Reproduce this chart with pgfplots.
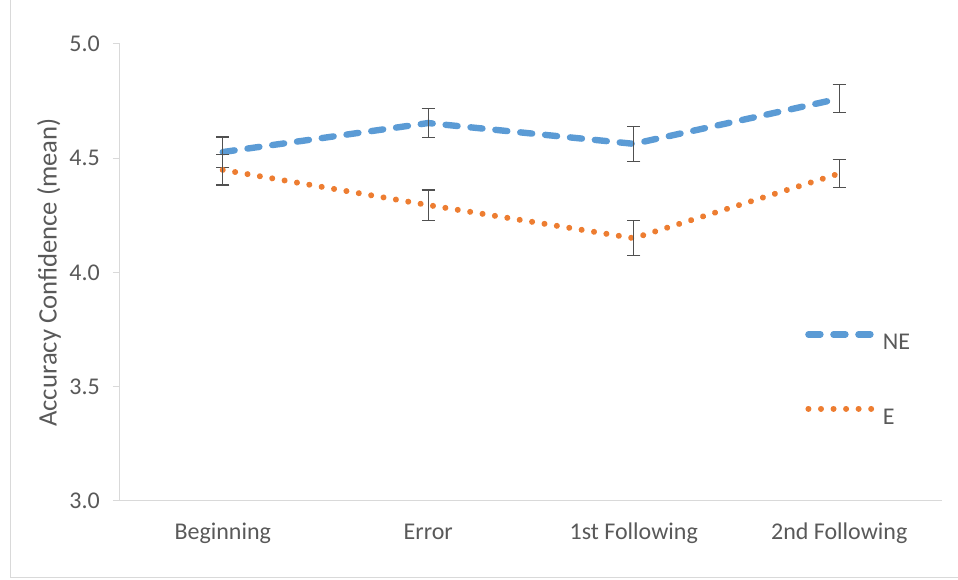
\documentclass[border=0pt]{standalone}
\usepackage{fontspec}
\setmainfont{Carlito}
\usepackage{pgfplots}
\pgfplotsset{compat=1.18}
\definecolor{neblue}{HTML}{5B9BD5}
\definecolor{eorange}{HTML}{ED7D31}
\definecolor{axgrey}{HTML}{D9D9D9}
\definecolor{lblgrey}{HTML}{595959}
\definecolor{errgrey}{HTML}{505050}
\begin{document}
\begin{tikzpicture}
\useasboundingbox (0,0) rectangle (718.5pt,435pt);
\draw[axgrey, line width=0.75pt] (7.5pt,440pt) -- (7.5pt,1.5pt) -- (730pt,1.5pt);
\begin{axis}[
  at={(90pt,59.25pt)}, anchor=south west,
  width=616.5pt, height=342.75pt, scale only axis,
  xmin=0, xmax=4, ymin=3, ymax=5,
  xtick={0.5,1.5,2.5,3.5},
  xticklabels={Beginning,Error,1st Following,2nd Following},
  ytick={3,3.5,4,4.5,5},
  axis x line*=bottom, axis y line*=left,
  axis line style={draw=axgrey, line width=0.75pt},
  x tick style={draw=none},
  y tick style={draw=axgrey, line width=0.75pt},
  tick align=outside, major tick length=5.25pt,
  /pgf/number format/assume math mode=true,
  /pgf/number format/fixed, /pgf/number format/fixed zerofill, /pgf/number format/precision=1,
  tick label style={font=\fontsize{18}{20}\selectfont, text=lblgrey},
  yticklabel style={anchor=east, inner sep=0pt, xshift=-9.75pt},
  xticklabel style={anchor=base, inner sep=0pt, yshift=-24pt},
  ylabel={Accuracy Confidence (mean)},
  ylabel style={font=\fontsize{20}{22}\selectfont, text=lblgrey, at={(axis description cs:-0.0864,0.5)}, anchor=center, inner sep=0pt},
  legend cell align=left,
  legend style={draw=none, fill=none, anchor=west, at={(0.8333,0.27)}, inner sep=0pt,
    font=\fontsize{18}{20}\selectfont, text=lblgrey, row sep=42pt, column sep=1pt,
    nodes={inner sep=0pt, text height=12pt, text depth=0pt}},
  legend image code/.code={\draw[#1] (0pt,5.5pt) -- (52.5pt,5.5pt);},
  error bars/error bar style={solid, line width=0.9pt, draw=errgrey, line cap=butt},
  error bars/error mark options={solid, rotate=90, mark size=5pt, line width=0.9pt, draw=errgrey},
]
\addplot[neblue, line width=4.8pt, line cap=round, dash pattern=on 9pt off 9.75pt,
  error bars/.cd, y dir=both, y explicit]
  coordinates {(0.5,4.527) +- (0,0.066) (1.5,4.654) +- (0,0.064) (2.5,4.563) +- (0,0.077) (3.5,4.761) +- (0,0.060)};
\addlegendentry{NE}
\addplot[eorange, line width=4.5pt, line cap=round, dash pattern=on 0.01pt off 9.4pt,
  error bars/.cd, y dir=both, y explicit]
  coordinates {(0.5,4.449) +- (0,0.066) (1.5,4.295) +- (0,0.066) (2.5,4.150) +- (0,0.076) (3.5,4.433) +- (0,0.062)};
\addlegendentry{E}
\end{axis}
\end{tikzpicture}
\end{document}
